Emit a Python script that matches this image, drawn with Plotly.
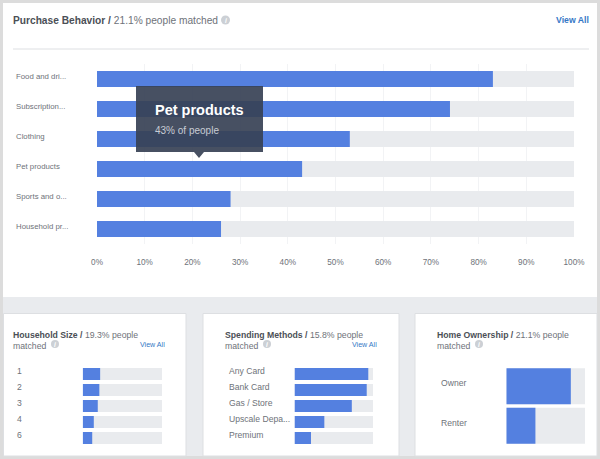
import plotly.graph_objects as go

W, H = 600, 459

# main chart
purchase_labels = ['Food and dri...', 'Subscription...', 'Clothing', 'Pet products', 'Sports and o...', 'Household pr...']
purchase_values = [83, 74, 53, 43, 28, 26]

# small cards
household_labels = ['1', '2', '3', '4', '6']
household_values = [22, 21, 19, 14, 12]
spending_labels = ['Any Card', 'Bank Card', 'Gas / Store', 'Upscale Depa...', 'Premium']
spending_values = [94, 92, 73, 38, 21]
home_labels = ['Owner', 'Renter']
home_values = [82, 37]

BLUE = '#5480e0'
TRACK = '#e9ebee'
DARK = '#4b4f56'
GREY = '#6e7279'
LINK = '#3578c6'
FONT = 'Liberation Sans'


def px(x):
    return x / W


def py(y):
    return 1 - y / H


fig = go.Figure()
shapes = []
notes = []


def text(x, y, s, size=9, color=GREY, anchor='left'):
    # annotations carry about 2px of padding, xshift takes it back
    notes.append(dict(xref='paper', yref='paper', x=px(x), y=py(y), text=s, showarrow=False,
                      xanchor=anchor, yanchor='middle', align=anchor,
                      xshift={'left': -2, 'right': 2, 'center': 0}[anchor],
                      font=dict(family=FONT, size=size, color=color)))


def rect(x0, y0, x1, y1, fill, line=None, layer='below'):
    shapes.append(dict(type='rect', xref='paper', yref='paper', x0=px(x0), x1=px(x1), y0=py(y0), y1=py(y1),
                       fillcolor=fill, line=dict(color=line or fill, width=1 if line else 0), layer=layer))


def info(x, y, r=4.5):
    shapes.append(dict(type='circle', xref='paper', yref='paper', x0=px(x - r), x1=px(x + r), y0=py(y - r), y1=py(y + r),
                       fillcolor='#ccd0d5', line=dict(width=0), layer='below'))
    text(x, y, '<b><i>i</i></b>', size=6.5, color='#ffffff', anchor='center')


def bars(n, labels, values, x0, x1, y0, y1, bar_width, label_x, label_size=8):
    xa = 'xaxis' if n == 1 else f'xaxis{n}'
    ya = 'yaxis' if n == 1 else f'yaxis{n}'
    xr = 'x' if n == 1 else f'x{n}'
    yr = 'y' if n == 1 else f'y{n}'
    fig.add_trace(go.Bar(x=[100] * len(labels), y=labels, orientation='h', marker=dict(color=TRACK, line_width=0),
                         width=bar_width, xaxis=xr, yaxis=yr, showlegend=False, hoverinfo='skip'))
    fig.add_trace(go.Bar(x=values, y=labels, orientation='h', marker=dict(color=BLUE, line_width=0),
                         width=bar_width, xaxis=xr, yaxis=yr, showlegend=False))
    fig.layout[xa] = dict(domain=[px(x0), px(x1)], range=[0, 100], anchor=yr, visible=False, automargin=False)
    fig.layout[ya] = dict(domain=[py(y1), py(y0)], anchor=xr, autorange=False, range=[len(labels) - 0.5, -0.5],
                          type='category', visible=False, automargin=False)
    # category axes take the index here, a label like '1' would be read as a position
    for i, lab in enumerate(labels):
        notes.append(dict(xref='paper', yref=yr, x=px(label_x), y=i, text=lab, showarrow=False, xanchor='left',
                          yanchor='middle', xshift=-2, yshift=3, font=dict(family=FONT, size=label_size, color=GREY)))


# page background and panels
rect(0, 0, W, H, '#dcdcdc')
rect(3, 3, 597, 456, '#e9ebee')
rect(3, 3, 597, 297, '#ffffff')
rect(3.5, 313.5, 186, 456, '#ffffff', '#dddfe2')
rect(203, 313.5, 399, 456, '#ffffff', '#dddfe2')
rect(415, 313.5, 597, 456, '#ffffff', '#dddfe2')
shapes.append(dict(type='line', xref='paper', yref='paper', x0=px(13), x1=px(589), y0=py(49), y1=py(49),
                   line=dict(color='#dddfe2', width=1), layer='below'))

# purchase behavior
bars(1, purchase_labels, purchase_values, 97, 574, 64, 244, 0.53, 16, 7.8)
fig.layout.xaxis.update(visible=True, dtick=10, tick0=0, ticksuffix='%', showgrid=True, gridcolor='#f2f3f5', gridwidth=1,
                        zeroline=False, showline=False, ticks='outside', ticklen=10, tickcolor='rgba(0,0,0,0)',
                        tickfont=dict(family=FONT, size=8.2, color=GREY))

# small cards
bars(2, household_labels, household_values, 82.7, 162, 366, 446, 0.75, 16.5, 8.6)
bars(3, spending_labels, spending_values, 294.5, 373, 366, 446, 0.75, 228.5, 8.6)
bars(4, home_labels, home_values, 506.3, 585, 366.5, 445.5, 0.91, 441, 8.6)

# headings
text(13, 20.5, '<b>Purchase Behavior /</b> <span style="color:#6e7279">21.1% people matched</span>', 10.2, DARK)
info(225.5, 20)
text(589, 20, '<b>View All</b>', 8.7, LINK, 'right')

text(13, 334.5, '<b>Household Size /</b> <span style="color:#6e7279">19.3% people</span>', 8.7, DARK)
text(13, 345.5, 'matched', 8.7, GREY)
info(55, 344, 4)
text(165, 344.5, 'View All', 7.1, LINK, 'right')

text(225, 334.5, '<b>Spending Methods /</b> <span style="color:#6e7279">15.8% people</span>', 8.7, DARK)
text(225, 345.5, 'matched', 8.7, GREY)
info(267, 344, 4)
text(377, 344.5, 'View All', 7.1, LINK, 'right')

text(437, 334.5, '<b>Home Ownership /</b> <span style="color:#6e7279">21.1% people</span>', 8.7, DARK)
text(437, 345.5, 'matched', 8.7, GREY)
info(479, 344, 4)

# tooltip over the pet products bar
shapes.append(dict(type='path', xref='paper', yref='paper', layer='above', fillcolor='rgba(55,65,85,0.92)', line=dict(width=0),
                   path=' '.join([
                       f'M {px(136)} {py(86)}', f'L {px(263)} {py(86)}', f'L {px(263)} {py(152)}',
                       f'L {px(204)} {py(152)}', f'L {px(199)} {py(158)}', f'L {px(194)} {py(152)}',
                       f'L {px(136)} {py(152)}', 'Z'])))
text(155, 110, '<b>Pet products</b>', 14.5, '#ffffff')
text(155, 131, '43% of people', 10, '#c8ccd4')

fig.update_layout(width=W, height=H, margin=dict(l=0, r=0, t=0, b=0), barmode='overlay',
                  paper_bgcolor='#ffffff', plot_bgcolor='rgba(0,0,0,0)', shapes=shapes, annotations=notes,
                  font=dict(family=FONT))

fig.write_html("out.html", config=dict(displayModeBar=False), post_script="document.body.style.margin='0';")
